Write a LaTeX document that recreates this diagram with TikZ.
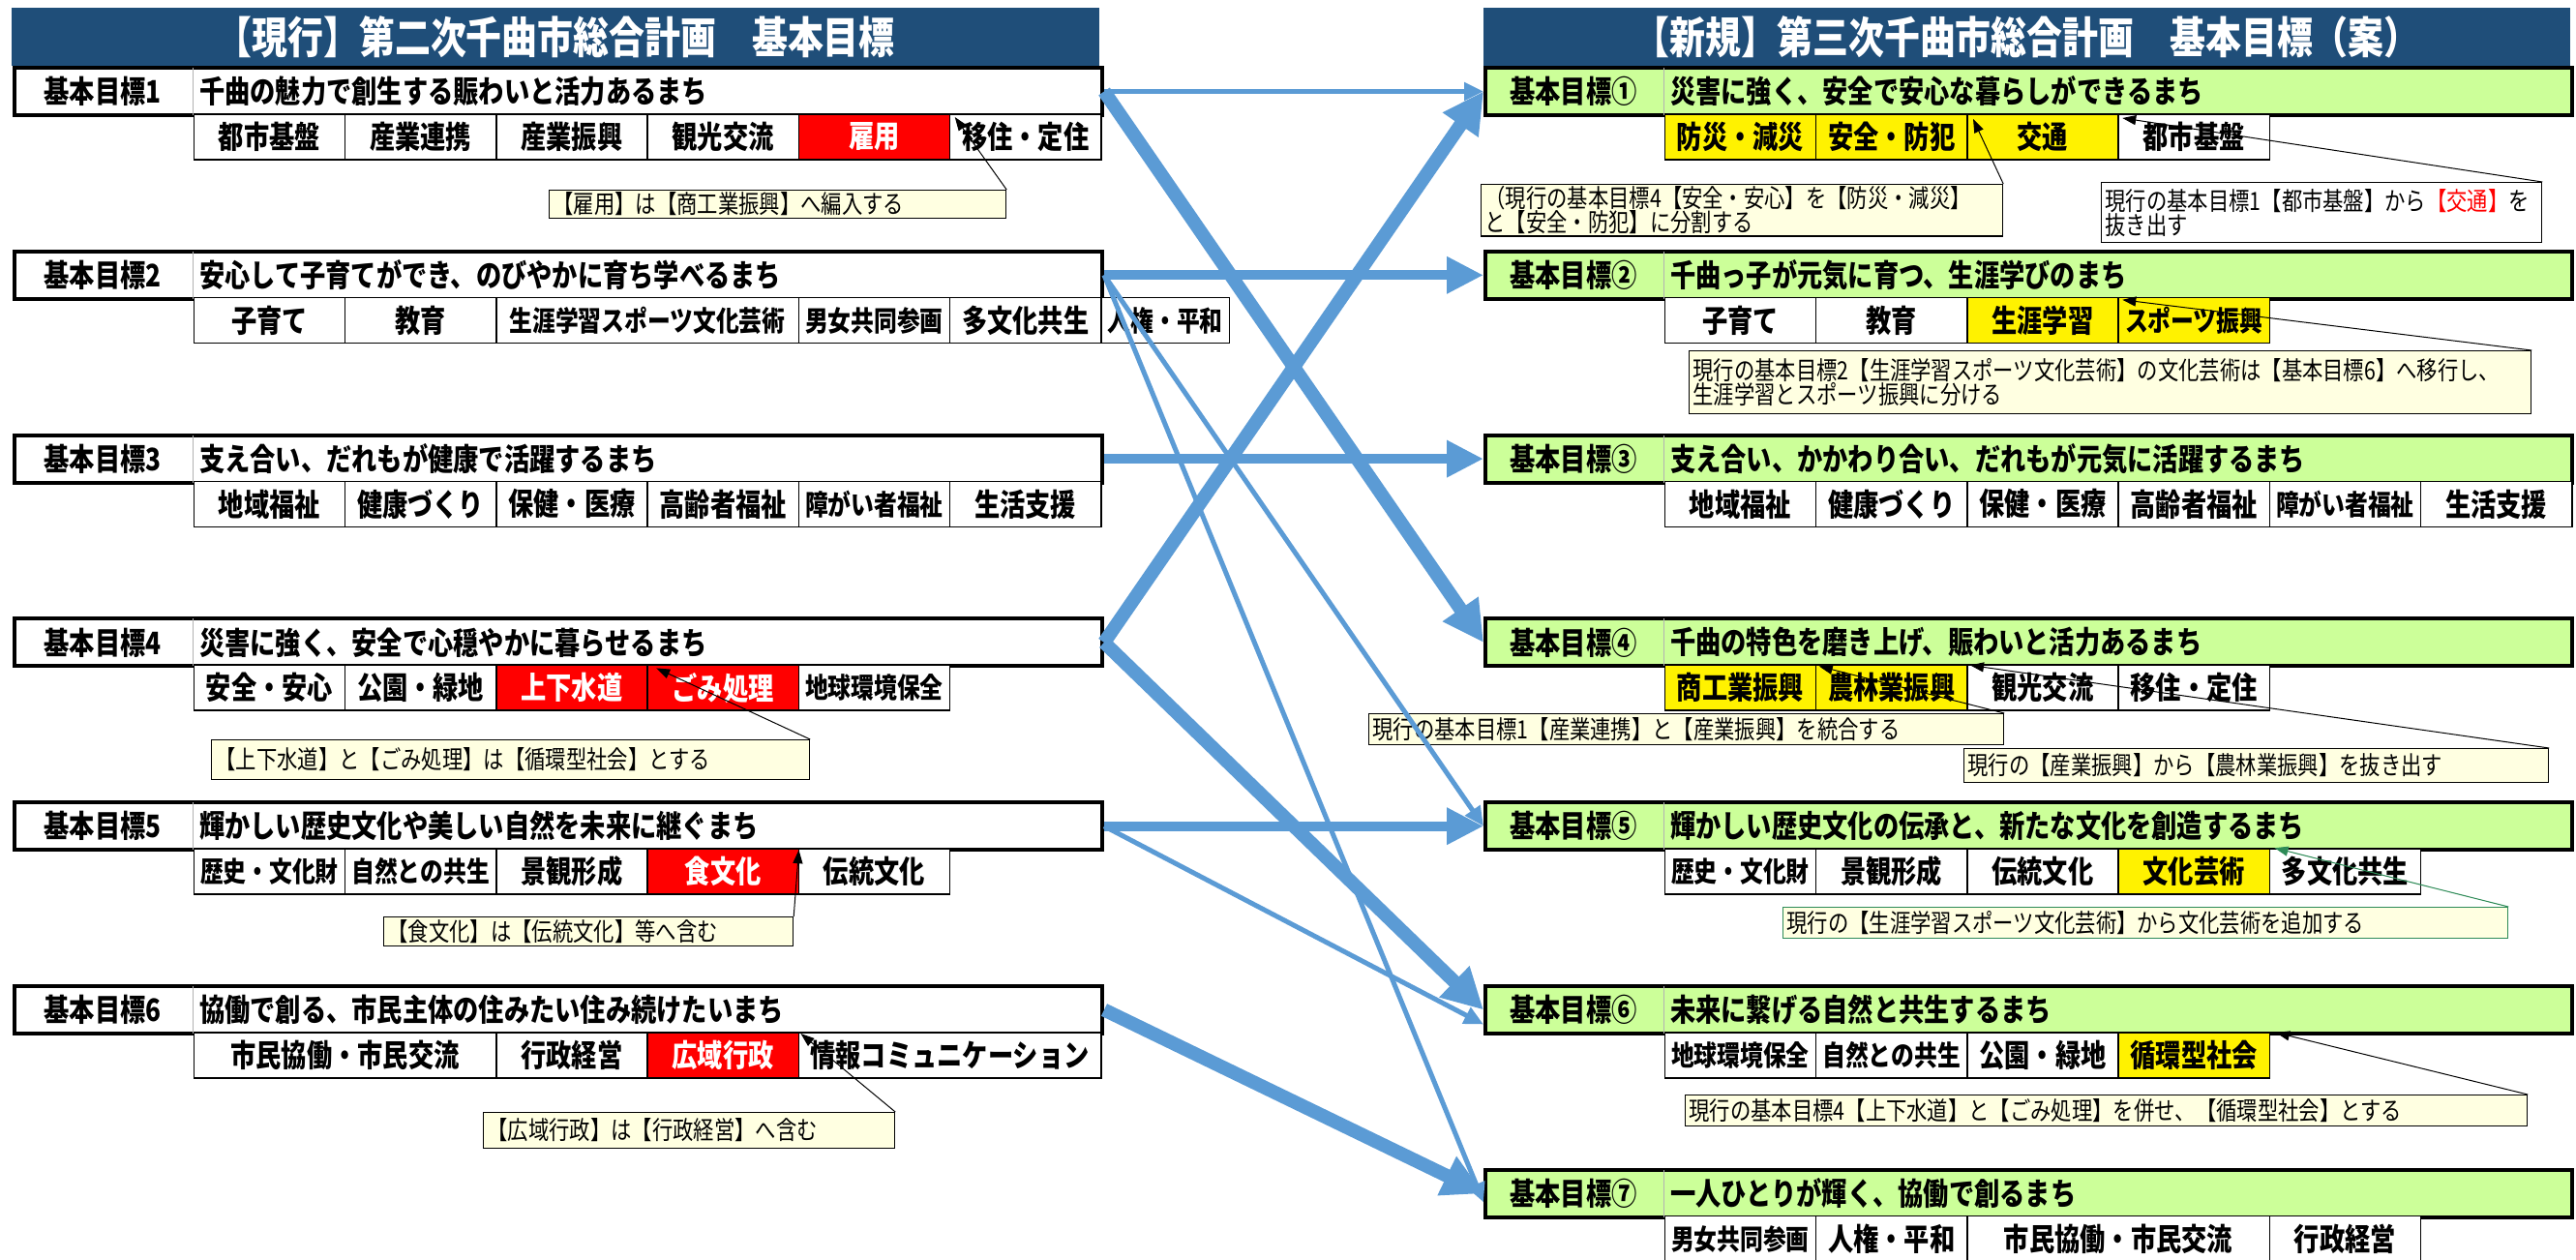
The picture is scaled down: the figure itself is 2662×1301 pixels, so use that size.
\documentclass[tikz,border=0pt]{standalone}
\usepackage{fontspec}
\setmainfont{Noto Sans CJK JP}[FakeStretch=0.82]
\usepackage{xcolor}
\usetikzlibrary{arrows.meta}
\definecolor{bannerblue}{HTML}{1F4E79}
\definecolor{linkblue}{HTML}{5B9BD5}
\definecolor{newgreen}{HTML}{CCFF99}
\definecolor{notecream}{HTML}{FFFFE1}
\definecolor{notegreen}{HTML}{2E8B57}
\tikzset{
    banner/.style = {fill=bannerblue, text=white, font=\fontsize{45}{50}\selectfont\bfseries, minimum width=1124pt, minimum height=60pt, anchor=north west, inner sep=0pt},
    goal-box/.style = {draw=black, line width=4pt, minimum width=1124pt, minimum height=49pt, anchor=north west, inner sep=0pt},
    goal-label/.style = {font=\fontsize{32}{36}\selectfont\bfseries, inner sep=0pt},
    goal-text/.style = {font=\fontsize{32}{36}\selectfont\bfseries, anchor=west, inner sep=0pt},
    itm/.style = {draw=black, line width=1.5pt, fill=white, minimum height=47pt, anchor=north west, inner sep=0pt, font=\fontsize{32}{36}\selectfont\bfseries},
    itm-sm/.style = {itm, font=\fontsize{29}{32}\selectfont\bfseries},
    itm-hot/.style = {itm, fill=red, text=white},
    itm-new/.style = {itm, fill=yellow},
    itm-new-sm/.style = {itm-sm, fill=yellow},
    note-box/.style = {draw=black, line width=1.2pt, fill=notecream, anchor=north west, inner xsep=4pt, inner ysep=2pt, align=left, font=\fontsize{26}{25}\selectfont},
    note-arrow/.style = {line width=1pt, -{Triangle[length=14pt, width=10pt]}},
    link-thin/.style = {draw=linkblue, line width=5pt, -{Triangle[length=20pt, width=18pt]}},
    link-mid/.style = {draw=linkblue, line width=10pt, -{Triangle[length=38pt, width=36pt]}},
    link-thick/.style = {draw=linkblue, line width=14pt, -{Triangle[length=42pt, width=42pt]}},
}
\newcommand{\itemrow}[4]{%
    \foreach \pos/\wid/\txt/\sty in {#4} {
        \node[\sty, minimum width=\wid*156.25pt] (#1-\pos) at ({#2+\pos*156.25}, #3) {\txt};
    }%
}

\begin{document}
\begin{tikzpicture}[x=1pt, y=-1pt]
\fill[white] (0,0) rectangle (2662,1301);
\useasboundingbox (0,0) rectangle (2662,1301);

\node[banner] (old-title) at (12,8) {【現行】第二次千曲市総合計画　基本目標};
\node[banner, minimum width=1123pt] (new-title) at (1533,8) {【新規】第三次千曲市総合計画　基本目標（案）};

\foreach \gi/\gt in {1/千曲の魅力で創生する賑わいと活力あるまち, 2/安心して子育てができ、のびやかに育ち学べるまち, 3/支え合い、だれもが健康で活躍するまち, 4/災害に強く、安全で心穏やかに暮らせるまち, 5/輝かしい歴史文化や美しい自然を未来に継ぐまち, 6/協働で創る、市民主体の住みたい住み続けたいまち} {
    \node[goal-box, fill=white] (L\gi) at (13, {68+189.8*(\gi-1)}) {};
    \draw[gray!60, line width=1pt] ([shift={(186.5pt,-2pt)}]L\gi.north west) -- ([shift={(186.5pt,2pt)}]L\gi.south west);
    \node[goal-label] at ([xshift=93pt]L\gi.west) {基本目標\gi};
    \node[goal-text] at ([xshift=193pt]L\gi.west) {\gt};
}
\foreach \gi/\gm/\gt in {1/①/災害に強く、安全で安心な暮らしができるまち, 2/②/千曲っ子が元気に育つ、生涯学びのまち, 3/③/支え合い、かかわり合い、だれもが元気に活躍するまち, 4/④/千曲の特色を磨き上げ、賑わいと活力あるまち, 5/⑤/輝かしい歴史文化の伝承と、新たな文化を創造するまち, 6/⑥/未来に繋げる自然と共生するまち, 7/⑦/一人ひとりが輝く、協働で創るまち} {
    \node[goal-box, fill=newgreen, minimum width=1123pt] (R\gi) at (1533, {68+189.8*(\gi-1)}) {};
    \draw[gray!60, line width=1pt] ([shift={(186.5pt,-2pt)}]R\gi.north west) -- ([shift={(186.5pt,2pt)}]R\gi.south west);
    \node[goal-label] at ([xshift=93pt]R\gi.west) {基本目標\gm};
    \node[goal-text] at ([xshift=193pt]R\gi.west) {\gt};
}

\itemrow{L1}{199.5}{117}{0/1/都市基盤/itm, 1/1/産業連携/itm, 2/1/産業振興/itm, 3/1/観光交流/itm, 4/1/雇用/itm-hot, 5/1/移住・定住/itm}
\itemrow{L2}{199.5}{306.8}{0/1/子育て/itm, 1/1/教育/itm, 2/2/生涯学習スポーツ文化芸術/itm-sm, 4/1/男女共同参画/itm-sm, 5/1/多文化共生/itm, 6/0.85/人権・平和/itm-sm}
\itemrow{L3}{199.5}{496.6}{0/1/地域福祉/itm, 1/1/健康づくり/itm, 2/1/保健・医療/itm, 3/1/高齢者福祉/itm, 4/1/障がい者福祉/itm-sm, 5/1/生活支援/itm}
\itemrow{L4}{199.5}{686.4}{0/1/安全・安心/itm, 1/1/公園・緑地/itm, 2/1/上下水道/itm-hot, 3/1/ごみ処理/itm-hot, 4/1/地球環境保全/itm-sm}
\itemrow{L5}{199.5}{876.2}{0/1/歴史・文化財/itm-sm, 1/1/自然との共生/itm-sm, 2/1/景観形成/itm, 3/1/食文化/itm-hot, 4/1/伝統文化/itm}
\itemrow{L6}{199.5}{1066}{0/2/市民協働・市民交流/itm, 2/1/行政経営/itm, 3/1/広域行政/itm-hot, 4/2/情報コミュニケーション/itm}

\itemrow{R1}{1719.5}{117}{0/1/防災・減災/itm-new, 1/1/安全・防犯/itm-new, 2/1/交通/itm-new, 3/1/都市基盤/itm}
\itemrow{R2}{1719.5}{306.8}{0/1/子育て/itm, 1/1/教育/itm, 2/1/生涯学習/itm-new, 3/1/スポーツ振興/itm-new-sm}
\itemrow{R3}{1719.5}{496.6}{0/1/地域福祉/itm, 1/1/健康づくり/itm, 2/1/保健・医療/itm, 3/1/高齢者福祉/itm, 4/1/障がい者福祉/itm-sm, 5/1/生活支援/itm}
\itemrow{R4}{1719.5}{686.4}{0/1/商工業振興/itm-new, 1/1/農林業振興/itm-new, 2/1/観光交流/itm, 3/1/移住・定住/itm}
\itemrow{R5}{1719.5}{876.2}{0/1/歴史・文化財/itm-sm, 1/1/景観形成/itm, 2/1/伝統文化/itm, 3/1/文化芸術/itm-new, 4/1/多文化共生/itm}
\itemrow{R6}{1719.5}{1066}{0/1/地球環境保全/itm-sm, 1/1/自然との共生/itm-sm, 2/1/公園・緑地/itm, 3/1/循環型社会/itm-new}
\itemrow{R7}{1719.5}{1255.8}{0/1/男女共同参画/itm-sm, 1/1/人権・平和/itm, 2/2/市民協働・市民交流/itm, 4/1/行政経営/itm}

\node[note-box, text width=464pt, minimum height=29pt] (nL1) at (567,196) {【雇用】は【商工業振興】へ編入する};
\node[note-box, text width=610pt, minimum height=41pt] (nL4) at (218,764) {【上下水道】と【ごみ処理】は【循環型社会】とする};
\node[note-box, text width=415pt, minimum height=30pt] (nL5) at (396,947) {【食文化】は【伝統文化】等へ含む};
\node[note-box, text width=417pt, minimum height=37pt] (nL6) at (499,1149) {【広域行政】は【行政経営】へ含む};
\node[note-box, text width=531pt, minimum height=53pt] (nR1a) at (1530,190) {（現行の基本目標4【安全・安心】を【防災・減災】\\と【安全・防犯】に分割する};
\node[note-box, fill=white, text width=447pt, minimum height=62pt] (nR1b) at (2171,188) {現行の基本目標1【都市基盤】から{\color{red}【交通】}を\\抜き出す};
\node[note-box, text width=862pt, minimum height=65pt] (nR2) at (1745,362) {現行の基本目標2【生涯学習スポーツ文化芸術】の文化芸術は【基本目標6】へ移行し、\\生涯学習とスポーツ振興に分ける};
\node[note-box, text width=648pt, minimum height=32pt] (nR4a) at (1414,737) {現行の基本目標1【産業連携】と【産業振興】を統合する};
\node[note-box, text width=596pt, minimum height=35pt] (nR4b) at (2029,773) {現行の【産業振興】から【農林業振興】を抜き出す};
\node[note-box, draw=notegreen, text width=741pt, minimum height=32pt] (nR5) at (1842,937) {現行の【生涯学習スポーツ文化芸術】から文化芸術を追加する};
\node[note-box, text width=862pt, minimum height=32pt] (nR6) at (1741,1131) {現行の基本目標4【上下水道】と【ごみ処理】を併せ、【循環型社会】とする};

\draw[note-arrow] (nL1.north east) -- ([shift={(6pt,-4pt)}]L1-5.north west);
\draw[note-arrow] (nL4.north east) -- ([shift={(10pt,-4pt)}]L4-3.north west);
\draw[note-arrow] (nL5.north east) -- ([shift={(1pt,-2pt)}]L5-4.north west);
\draw[note-arrow] (nL6.north east) -- ([shift={(3pt,-2pt)}]L6-4.north west);
\draw[note-arrow] (nR1a.north east) -- ([shift={(7pt,-6pt)}]R1-2.north west);
\draw[note-arrow] (nR1b.north east) -- ([shift={(5pt,-5pt)}]R1-3.north west);
\draw[note-arrow] (nR2.north east) -- ([shift={(5pt,-3pt)}]R2-3.north west);
\draw[note-arrow] (nR4a.north east) -- ([shift={(4pt,-2pt)}]R4-1.north west);
\draw[note-arrow] (nR4b.north east) -- ([shift={(4pt,-1pt)}]R4-2.north west);
\draw[note-arrow, draw=notegreen, fill=notegreen] (nR5.north east) -- ([xshift=6pt]R5-4.north west);
\draw[note-arrow] (nR6.north east) -- ([shift={(6pt,-1pt)}]R6-3.north east);

\draw[link-thin] (L1.east) -- (R1.west);
\draw[link-thick] (L1.east) -- (R4.west);
\draw[link-mid] (L2.east) -- (R2.west);
\draw[link-thin] (L2.east) -- (R5.west);
\draw[link-thin] (L2.east) -- ([yshift=-9pt]R7.west);
\draw[link-mid] (L3.east) -- (R3.west);
\draw[link-thick] (L4.east) -- (R1.west);
\draw[link-thick] (L4.east) -- (R6.west);
\draw[link-mid] (L5.east) -- (R5.west);
\draw[link-thin] (L5.east) -- ([yshift=-15pt]R6.west);
\draw[link-thick] (L6.east) -- (R7.west);
\end{tikzpicture}
\end{document}
